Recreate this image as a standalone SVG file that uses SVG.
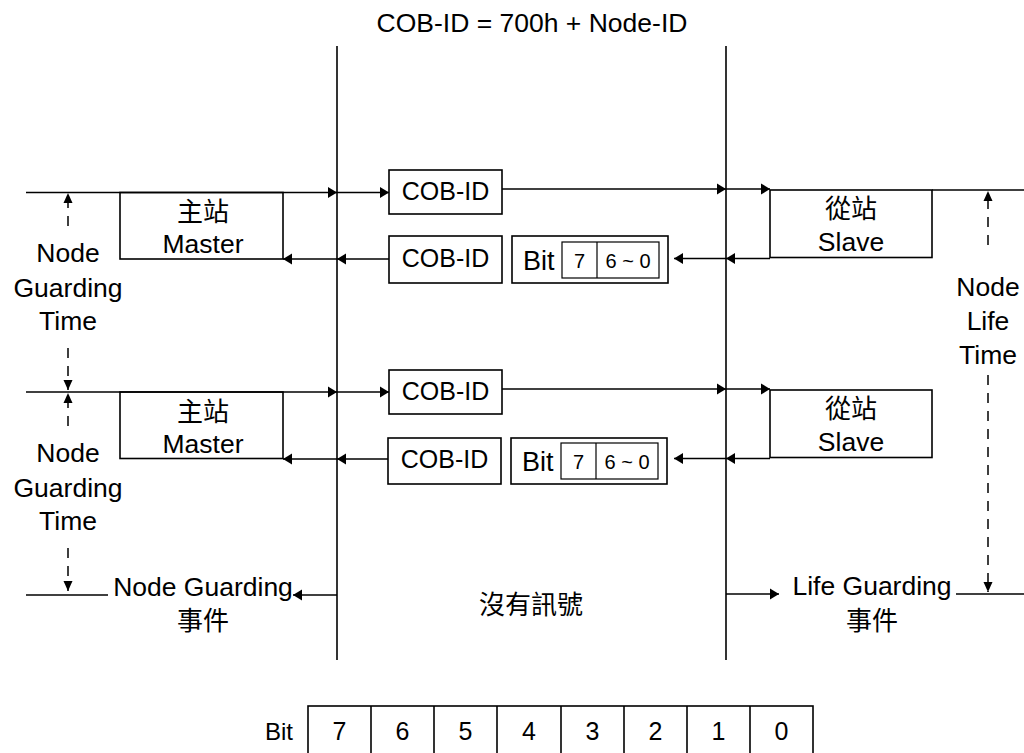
<svg xmlns="http://www.w3.org/2000/svg" width="1024" height="753" viewBox="0 0 1024 753">
<style>
text{font-family:"Liberation Sans","Noto Sans CJK TC",sans-serif;fill:#000;}
.t{font-size:25px;}
.c{font-size:26.5px;text-anchor:middle;}
.cb{font-size:25px;text-anchor:middle;}
.cj{font-size:26px;text-anchor:middle;}
.s{font-size:20px;text-anchor:middle;}
.ln{stroke:#000;stroke-width:1.6;fill:none;}
.bx{stroke:#000;stroke-width:1.6;fill:#fff;}
.ds{stroke:#000;stroke-width:1.5;fill:none;stroke-dasharray:10 8;}
.ar{marker-end:url(#ah);}
.ta{marker-end:url(#th);}
</style>
<defs>
<marker id="ah" markerUnits="userSpaceOnUse" markerWidth="10" markerHeight="12" refX="9" refY="6" orient="auto"><path d="M0,0.5 L9,6 L0,11.5 z" fill="#000"/></marker>
<marker id="th" markerUnits="userSpaceOnUse" markerWidth="12" markerHeight="10" refX="10" refY="5" orient="auto"><path d="M0,0.5 L10,5 L0,9.5 z" fill="#000"/></marker>
</defs>

<text class="c" x="532" y="32">COB-ID = 700h + Node-ID</text>

<g id="connectors">
<line class="ln" x1="337" y1="46" x2="337" y2="660"/>
<line class="ln" x1="726" y1="46" x2="726" y2="660"/>
<line class="ln ar" x1="26" y1="192.5" x2="337" y2="192.5"/>
<line class="ln ar" x1="337" y1="192.5" x2="389" y2="192.5"/>
<line class="ln ar" x1="502" y1="189" x2="726" y2="189"/>
<line class="ln ar" x1="726" y1="189" x2="770" y2="189"/>
<line class="ln" x1="932" y1="190" x2="1024" y2="190"/>
<line class="ln ar" x1="770" y1="258.5" x2="726" y2="258.5"/>
<line class="ln ar" x1="726" y1="258.5" x2="674" y2="258.5"/>
<line class="ln ar" x1="389" y1="259" x2="337" y2="259"/>
<line class="ln ar" x1="337" y1="259" x2="283" y2="259"/>
<line class="ln ar" x1="26" y1="392" x2="337" y2="392"/>
<line class="ln ar" x1="337" y1="392" x2="389" y2="392"/>
<line class="ln ar" x1="502" y1="389" x2="726" y2="389"/>
<line class="ln ar" x1="726" y1="389" x2="770" y2="389"/>
<line class="ln ar" x1="770" y1="458.5" x2="726" y2="458.5"/>
<line class="ln ar" x1="726" y1="458.5" x2="674" y2="458.5"/>
<line class="ln ar" x1="389" y1="459" x2="337" y2="459"/>
<line class="ln ar" x1="337" y1="459" x2="283" y2="459"/>
<line class="ln" x1="26" y1="595" x2="108" y2="595"/>
<line class="ln ar" x1="337" y1="595" x2="293" y2="595"/>
<line class="ln ar" x1="726" y1="594" x2="779" y2="594"/>
<line class="ln" x1="956" y1="594" x2="1024" y2="594"/>
<line class="ds ta" x1="68" y1="226" x2="68" y2="193"/>
<line class="ds ta" x1="68" y1="348" x2="68" y2="390"/>
<line class="ds ta" x1="68" y1="426" x2="68" y2="393"/>
<line class="ds ta" x1="68" y1="548" x2="68" y2="591"/>
<line class="ds ta" x1="988" y1="245" x2="988" y2="191"/>
<line class="ds ta" x1="988" y1="375" x2="988" y2="592"/>
</g>

<g id="master1">
<rect class="bx" x="120" y="192.5" width="163" height="66.5" style="fill:none"/>
<text class="cj" x="203" y="221">主站</text>
<text class="c" x="203" y="253">Master</text>
</g>
<g id="master2">
<rect class="bx" x="120" y="392" width="163" height="66.5" style="fill:none"/>
<text class="cj" x="203" y="421">主站</text>
<text class="c" x="203" y="453">Master</text>
</g>
<g id="slave1">
<rect class="bx" x="770" y="190" width="162" height="67.5" style="fill:none"/>
<text class="cj" x="851" y="218">從站</text>
<text class="c" x="851" y="251">Slave</text>
</g>
<g id="slave2">
<rect class="bx" x="770" y="390" width="162" height="67.5" style="fill:none"/>
<text class="cj" x="851" y="418">從站</text>
<text class="c" x="851" y="451">Slave</text>
</g>

<g id="cob1">
<rect class="bx" x="389" y="170" width="113" height="44"/>
<text class="cb" x="445.5" y="200">COB-ID</text>
</g>
<g id="cob1r">
<rect class="bx" x="389" y="236" width="113" height="47"/>
<text class="cb" x="445.5" y="267">COB-ID</text>
</g>
<g id="bit1">
<rect class="bx" x="512" y="236" width="156" height="47"/>
<text class="t" x="523" y="270" style="font-size:27px">Bit</text>
<rect class="bx" x="562" y="242" width="97" height="36" style="stroke-width:1.2"/>
<line class="ln" x1="597" y1="242" x2="597" y2="278" style="stroke-width:1.2"/>
<text class="s" x="579.5" y="268">7</text>
<text class="s" x="628" y="268">6 ~ 0</text>
</g>
<g id="cob2">
<rect class="bx" x="389" y="370" width="113" height="44"/>
<text class="cb" x="445.5" y="400">COB-ID</text>
</g>
<g id="cob2r">
<rect class="bx" x="388" y="438" width="113" height="46"/>
<text class="cb" x="444.5" y="468">COB-ID</text>
</g>
<g id="bit2">
<rect class="bx" x="511" y="438" width="156" height="46"/>
<text class="t" x="522" y="471" style="font-size:27px">Bit</text>
<rect class="bx" x="561" y="443" width="97" height="36" style="stroke-width:1.2"/>
<line class="ln" x1="596" y1="443" x2="596" y2="479" style="stroke-width:1.2"/>
<text class="s" x="578.5" y="469">7</text>
<text class="s" x="627" y="469">6 ~ 0</text>
</g>

<g id="ngt1">
<text class="c" x="68" y="262">Node</text>
<text class="c" x="68" y="297">Guarding</text>
<text class="c" x="68" y="330">Time</text>
</g>
<g id="ngt2">
<text class="c" x="68" y="462">Node</text>
<text class="c" x="68" y="497">Guarding</text>
<text class="c" x="68" y="530">Time</text>
</g>
<g id="nlt">
<text class="c" x="988" y="296">Node</text>
<text class="c" x="988" y="330">Life</text>
<text class="c" x="988" y="364">Time</text>
</g>

<g id="ngevent">
<text class="c" x="203" y="596">Node Guarding</text>
<text class="cj" x="203" y="630">事件</text>
</g>
<g id="lgevent">
<text class="c" x="872" y="595">Life Guarding</text>
<text class="cj" x="872" y="630">事件</text>
</g>
<g id="nosignal">
<text class="cj" x="531" y="614">沒有訊號</text>
</g>

<g id="bittable">
<text class="t" x="265" y="740" style="font-size:24px">Bit</text>
<rect class="bx" x="308" y="706" width="505" height="60" style="fill:none"/>
<line class="ln" x1="371" y1="706" x2="371" y2="760"/>
<line class="ln" x1="434" y1="706" x2="434" y2="760"/>
<line class="ln" x1="497" y1="706" x2="497" y2="760"/>
<line class="ln" x1="561" y1="706" x2="561" y2="760"/>
<line class="ln" x1="624" y1="706" x2="624" y2="760"/>
<line class="ln" x1="687" y1="706" x2="687" y2="760"/>
<line class="ln" x1="750" y1="706" x2="750" y2="760"/>
<text class="cb" x="339.5" y="740">7</text>
<text class="cb" x="402.5" y="740">6</text>
<text class="cb" x="465.5" y="740">5</text>
<text class="cb" x="529" y="740">4</text>
<text class="cb" x="592.5" y="740">3</text>
<text class="cb" x="655.5" y="740">2</text>
<text class="cb" x="718.5" y="740">1</text>
<text class="cb" x="781.5" y="740">0</text>
</g>
</svg>
